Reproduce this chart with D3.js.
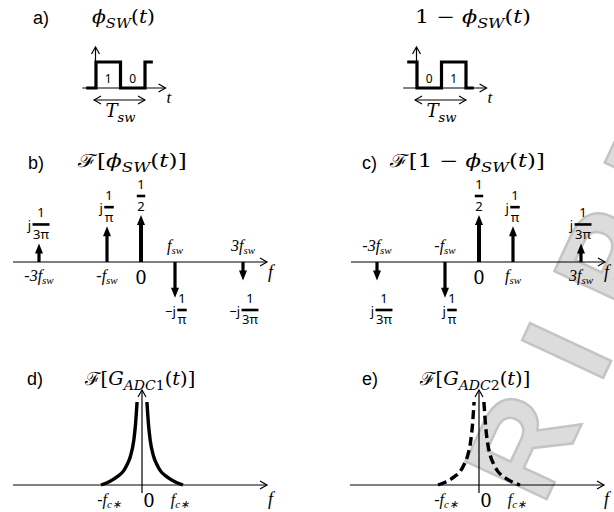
<!DOCTYPE html>
<html><head><meta charset="utf-8">
<script src="https://cdn.jsdelivr.net/npm/d3@7"></script>
<style>body{margin:0;background:#fff}</style>
</head><body>
<svg id="fig" width="614" height="512"></svg>
<script>
// Harmonic orders on the frequency axes (multiples of f_sw)
const harmonics = [-3, -1, 0, 1, 3];
const tickNames = ["-3f", "-f", "0", "f", "3f"];
// Spectral lines of phi_sw(t): signed magnitude (up = +, down = −)
const phiLines = [0.1061, 0.3183, 0.5, -0.3183, -0.1061];
const phiLabels = [["j", "1", "3π"], ["j", "1", "π"], ["", "1", "2"], ["−j", "1", "π"], ["−j", "1", "3π"]];
// Spectral lines of 1 − phi_sw(t)
const invLines = [-0.1061, -0.3183, 0.5, 0.3183, 0.1061];
const invLabels = [["j", "1", "3π"], ["j", "1", "π"], ["", "1", "2"], ["j", "1", "π"], ["j", "1", "3π"]];
// ADC response: normalised frequency |f|/f_c* and normalised magnitude
const respFreq = [0.12, 0.16, 0.2, 0.28, 0.36, 0.45, 0.6, 0.8, 1.0];
const respMag  = [1.0, 0.72, 0.54, 0.35, 0.25, 0.17, 0.10, 0.04, 0];
// Switching waveforms: break times in T_sw and the level after each break
const waveT = [-0.2, 0, 0.5, 1.0, 1.16];
const phiLevels = [0, 1, 0, 1, 1];
const invLevels = [1, 0, 1, 0, 0];

const MATH = "'DejaVu Serif', serif";
const TIMES = "'Liberation Serif', 'Times New Roman', serif";
const SANS = "'Liberation Sans', Arial, sans-serif";
const FRAC = "'Noto Sans', 'Open Sans', sans-serif";

const svg = d3.select("#fig");
svg.append("rect").attr("width", 614).attr("height", 512).attr("fill", "#fff");

// faint diagonal watermark lettering
const wm = svg.append("g").attr("transform", "translate(543,507) rotate(-65)");
wm.append("text").text("RIPT")
  .attr("font-family", SANS).attr("font-weight", "bold").attr("font-size", 130)
  .attr("letter-spacing", 40)
  .attr("fill", "#dcdcdc").attr("stroke", "#c4c4c4").attr("stroke-width", 2.5);

const root = svg.append("g");

// math-style text; stretched horizontally to a given width when asked
function mathText(g, x, y, parts, size, width) {
  const t = g.append("text").attr("font-family", MATH).attr("font-size", size);
  let shift = 0;
  parts.forEach(p => {
    const ts = t.append("tspan").text(p.s);
    if (p.i) ts.attr("font-style", "italic");
    const target = p.sub ? size * 0.3 : 0;
    if (target !== shift) { ts.attr("dy", target - shift); shift = target; }
    if (p.sub) ts.attr("font-size", size * 0.72);
  });
  const sx = width ? width / t.node().getComputedTextLength() : 1;
  t.attr("transform", `translate(${x},${y}) scale(${sx},1)`);
  return t;
}
function panelTag(x, y, s) {
  root.append("text").attr("x", x).attr("y", y).attr("font-family", SANS)
    .attr("font-size", 18).text(s);
}
function hArrow(g, x1, x2, y) {
  g.append("line").attr("x1", x1).attr("x2", x2).attr("y1", y).attr("y2", y)
    .attr("stroke", "#000").attr("stroke-width", 1.2);
  g.append("path").attr("d", `M${x2 - 7},${y - 4}L${x2},${y}L${x2 - 7},${y + 4}`)
    .attr("fill", "none").attr("stroke", "#000").attr("stroke-width", 1.2);
}
function vArrow(g, x, y1, y2) {
  g.append("line").attr("x1", x).attr("x2", x).attr("y1", y1).attr("y2", y2)
    .attr("stroke", "#000").attr("stroke-width", 1.2);
  g.append("path").attr("d", `M${x - 4},${y2 + 7}L${x},${y2}L${x + 4},${y2 + 7}`)
    .attr("fill", "none").attr("stroke", "#000").attr("stroke-width", 1.2);
}
function fLabel(g, x, y, name, sub) {
  const t = g.append("text").attr("x", x).attr("y", y).attr("font-family", TIMES)
    .attr("font-size", 16).attr("font-style", "italic").attr("text-anchor", "middle");
  t.append("tspan").text(name);
  t.append("tspan").attr("font-size", 11).attr("dy", 3).text(sub);
  return t;
}

// ---- a) switching waveforms ----
function waveform(x0, levels, titleX, titleW, titleParts) {
  const g = root.append("g");
  const xt = d3.scaleLinear().domain([0, 1]).range([x0, x0 + 49]);
  const yl = d3.scaleLinear().domain([0, 1]).range([88, 62]);
  hArrow(g, xt(-0.28), xt(1.42), 88);
  vArrow(g, x0 - 0.5, 88, 47);
  const line = d3.line().x(d => xt(d[0])).y(d => yl(d[1])).curve(d3.curveStepAfter);
  g.append("path").attr("d", line(waveT.map((t, i) => [t, levels[i]])))
    .attr("fill", "none").attr("stroke", "#000").attr("stroke-width", 3.2);
  [0.25, 0.75].forEach((t, i) => {
    g.append("text").attr("x", xt(t)).attr("y", 83).attr("text-anchor", "middle")
      .attr("font-family", FRAC).attr("font-size", 12).text(levels[i + 1]);
  });
  // period marker
  const y = 100, xa = xt(-0.04), xb = xt(1.0);
  g.append("line").attr("x1", xa).attr("x2", xb).attr("y1", y).attr("y2", y)
    .attr("stroke", "#000").attr("stroke-width", 1.1);
  g.append("path").attr("d", `M${xa + 7},${y - 4}L${xa},${y}L${xa + 7},${y + 4}M${xb - 7},${y - 4}L${xb},${y}L${xb - 7},${y + 4}`)
    .attr("fill", "none").attr("stroke", "#000").attr("stroke-width", 1.1);
  mathText(g, xt(0.5) - 15, 117, [{ s: "T", i: 1 }, { s: "sw", i: 1, sub: 1 }], 18, 30);
  g.append("text").attr("x", xt(1.42) + 1).attr("y", 103).attr("font-family", TIMES)
    .attr("font-style", "italic").attr("font-size", 17).text("t");
  mathText(g, titleX, 23, titleParts, 18, titleW);
}
panelTag(33, 24, "a)");
waveform(96, phiLevels, 92, 63,
  [{ s: "ϕ", i: 1 }, { s: "SW", i: 1, sub: 1 }, { s: "(" }, { s: "t", i: 1 }, { s: ")" }]);
waveform(417, invLevels, 415, 116,
  [{ s: "1 − " }, { s: "ϕ", i: 1 }, { s: "SW", i: 1, sub: 1 }, { s: "(" }, { s: "t", i: 1 }, { s: ")" }]);

// ---- b) and c) line spectra ----
function fraction(g, cx, yNum, yBar, yDen, lab) {
  const [pre, num, den] = lab;
  g.append("text").attr("x", cx).attr("y", yNum).attr("text-anchor", "middle")
    .attr("font-family", FRAC).attr("font-size", 13).text(num);
  const d = g.append("text").attr("x", cx).attr("y", yDen).attr("text-anchor", "middle")
    .attr("font-family", FRAC).attr("font-size", 13).text(den);
  const w = d.node().getComputedTextLength() + 1;
  g.append("rect").attr("x", cx - w / 2).attr("y", yBar - 1.3).attr("width", w).attr("height", 2.6);
  if (pre) g.append("text").attr("x", cx - w / 2 - 1.5).attr("y", yBar + 6).attr("text-anchor", "end")
    .attr("font-family", FRAC).attr("font-size", 13).text(pre);
}
function spectrum(cx, lines, labels, tag, tagX, titleX, titleW, titleParts, fX) {
  const g = root.append("g");
  const axisY = 262;
  const xs = d3.scaleLinear().domain([-3, 3]).range([cx - 102, cx + 102]);
  const hs = d3.scalePow().exponent(0.6).domain([0, 0.5]).range([0, 47]);
  hArrow(g, cx - 128, cx + 126, axisY);
  g.append("text").attr("x", fX).attr("y", axisY + 16).attr("font-family", TIMES)
    .attr("font-style", "italic").attr("font-size", 18).text("f");
  harmonics.forEach((k, i) => {
    const v = lines[i], x = xs(k), s = Math.sign(v);
    const tip = axisY - s * hs(Math.abs(v));
    const head = 10, hw = 4;
    g.append("line").attr("x1", x).attr("x2", x).attr("y1", axisY).attr("y2", tip + s * (head - 1))
      .attr("stroke", "#000").attr("stroke-width", k === 0 ? 4 : 3.2);
    g.append("path").attr("d", `M${x - hw},${tip + s * head}L${x},${tip}L${x + hw},${tip + s * head}Z`)
      .attr("fill", "#000");
    // harmonic tick label on the side away from the line
    if (k === 0) {
      g.append("text").attr("x", x).attr("y", axisY + 22).attr("text-anchor", "middle")
        .attr("font-family", MATH).attr("font-size", 18).text("0");
    } else {
      fLabel(g, x, s > 0 ? axisY + 19 : axisY - 11, tickNames[i], "sw");
    }
    // coefficient label
    if (s > 0) {
      const dx = k === 0 ? 0 : 2;
      fraction(g, x + dx, tip - 26, tip - 19, tip - 4, labels[i]);
    } else {
      fraction(g, x + 7, axisY + 41, axisY + 48, axisY + 62, labels[i]);
    }
  });
  panelTag(tagX, 169, tag);
  mathText(g, titleX, 167, titleParts, 18, titleW);
}
spectrum(141, phiLines, phiLabels, "b)", 28, 78, 109,
  [{ s: "ℱ" }, { s: "[" }, { s: "ϕ", i: 1 }, { s: "SW", i: 1, sub: 1 }, { s: "(" }, { s: "t", i: 1 }, { s: ")" }, { s: "]" }], 268);
spectrum(479, invLines, invLabels, "c)", 362, 390, 155,
  [{ s: "ℱ" }, { s: "[1 − " }, { s: "ϕ", i: 1 }, { s: "SW", i: 1, sub: 1 }, { s: "(" }, { s: "t", i: 1 }, { s: ")" }, { s: "]" }], 604);

// ---- d) and e) ADC responses ----
function response(cx, dashed, tag, tagX, titleX, idx, fX) {
  const g = root.append("g");
  const axisY = 485;
  const xf = d3.scaleLinear().domain([-1, 1]).range([cx - 41, cx + 41]);
  const ym = d3.scaleLinear().domain([0, 1]).range([axisY, 402]);
  hArrow(g, cx - 129, cx + 125, axisY);
  vArrow(g, cx, axisY + 8, 390);
  g.append("text").attr("x", fX).attr("y", axisY + 20).attr("font-family", TIMES)
    .attr("font-style", "italic").attr("font-size", 18).text("f");
  const line = d3.line().x(d => xf(d[0])).y(d => ym(d[1])).curve(d3.curveMonotoneX);
  const right = respFreq.map((f, i) => [f, respMag[i]]);
  const left = right.map(d => [-d[0], d[1]]).reverse();
  [left, right].forEach(pts => {
    const p = g.append("path").attr("d", line(pts)).attr("fill", "none")
      .attr("stroke", "#000").attr("stroke-width", 3.4);
    if (dashed) p.attr("stroke-dasharray", "9,4.5");
  });
  fLabel(g, xf(-1) + 8, axisY + 20, "-f", "c∗");
  g.append("text").attr("x", cx + 7).attr("y", axisY + 22).attr("text-anchor", "middle")
    .attr("font-family", MATH).attr("font-size", 18).text("0");
  fLabel(g, xf(1) - 3, axisY + 20, "f", "c∗");
  panelTag(tagX, 385, tag);
  mathText(g, titleX, 385, [{ s: "ℱ" }, { s: "[" }, { s: "G", i: 1 }, { s: "ADC", i: 1, sub: 1 },
    { s: idx, sub: 1 }, { s: "(" }, { s: "t", i: 1 }, { s: ")" }, { s: "]" }], 18, 111);
}
response(142, false, "d)", 27, 85, "1", 268);
response(479, true, "e)", 362, 420, "2", 604);
</script>
</body></html>
